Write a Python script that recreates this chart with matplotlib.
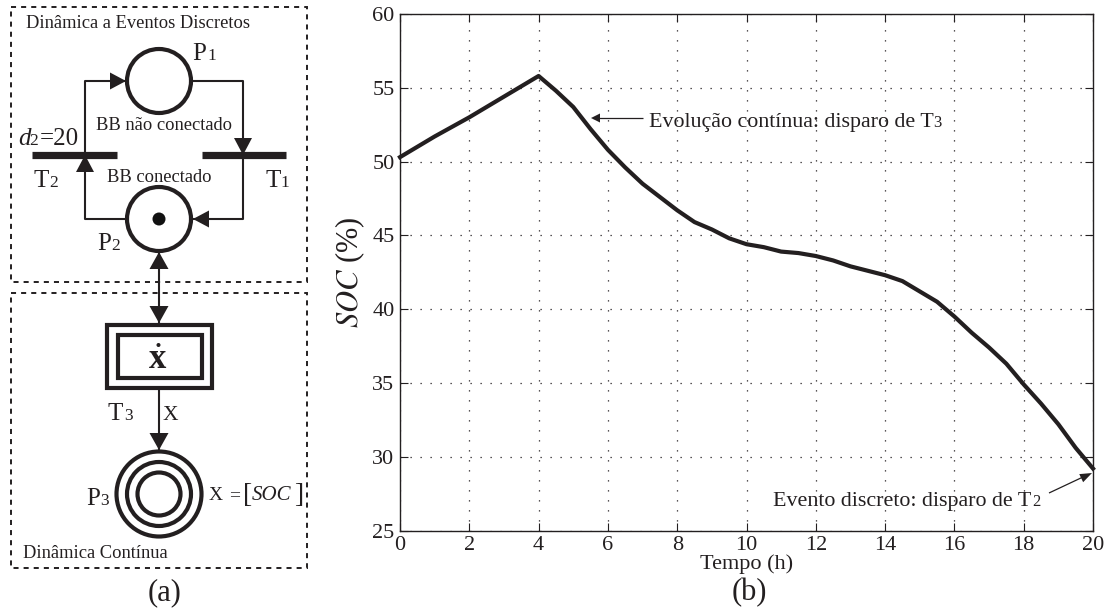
import matplotlib
matplotlib.use("Agg")
import matplotlib.pyplot as plt
from matplotlib.patches import Circle, Rectangle, Polygon

plt.rcParams['font.family'] = ['Liberation Serif', 'DejaVu Serif']

# ---- data of the SOC curve
tempo = [0, 1, 2, 3, 4, 4.5, 5, 5.5, 6, 6.5, 7, 7.5, 8, 8.5, 9, 9.5, 10, 10.5, 11, 11.5,
         12, 12.5, 13, 13.5, 14, 14.5, 15, 15.5, 16, 16.5, 17, 17.5, 18, 18.5, 19, 19.5, 20]
soc = [50.3, 51.7, 53.0, 54.4, 55.8, 54.8, 53.7, 52.2, 50.8, 49.6, 48.5, 47.6, 46.7, 45.9, 45.4, 44.8,
       44.4, 44.2, 43.9, 43.8, 43.6, 43.3, 42.9, 42.6, 42.3, 41.9, 41.2, 40.5, 39.5, 38.4, 37.4, 36.3,
       34.9, 33.6, 32.2, 30.6, 29.2]
xticks = [0, 2, 4, 6, 8, 10, 12, 14, 16, 18, 20]
yticks = [25, 30, 35, 40, 45, 50, 55, 60]

W, H = 1110, 609
INK = '#231f20'
fig = plt.figure(figsize=(W / 100, H / 100), dpi=100, facecolor='white')

# ---- right panel: chart
ax = fig.add_axes([400 / W, 1 - 530.5 / H, 693 / W, 516.5 / H])
ax.plot(tempo, soc, color=INK, lw=3.0, solid_joinstyle='round', clip_on=False, zorder=3)
ax.set_xlim(0, 20)
ax.set_ylim(25, 60)
ax.set_xticks(xticks)
ax.set_yticks(yticks)
ax.grid(True, color=INK, ls=(0, (1, 7)), lw=0.9)
ax.set_axisbelow(True)
ax.tick_params(direction='in', length=6, width=0.8, top=True, right=True, labelsize=16,
               pad=4, color=INK, labelcolor=INK)
for s in ax.spines.values():
    s.set_linewidth(1.0)
    s.set_color(INK)

# ---- full-figure overlay in reference pixel coordinates (schematic and notes)
ov = fig.add_axes([0, 0, 1, 1], facecolor='none')
ov.set_xlim(0, W)
ov.set_ylim(H, 0)
ov.axis('off')


def line(x, y, lw=1.5, **kw):
    ov.plot(x, y, color=INK, lw=lw, solid_capstyle='butt', **kw)


def tri(tip, direction, size=16, half=8.5):
    x, y = tip
    dx, dy = direction
    px, py = -dy, dx
    ov.add_patch(Polygon([(x, y), (x - dx * size + px * half, y - dy * size + py * half),
                          (x - dx * size - px * half, y - dy * size - py * half)],
                         closed=True, fc=INK, ec='none', zorder=5))


def txt(x, y, s, size, ha='left', va='baseline', **kw):
    ov.text(x, y, s, fontsize=size, ha=ha, va=va, color=INK, **kw)


def ring(x, y, r, lw=3):
    ov.add_patch(Circle((x, y), r, fc='none', ec=INK, lw=lw, zorder=4))


# dashed boxes
for (x0, y0, x1, y1) in [(11, 7, 307, 282), (11, 293, 307, 568)]:
    ov.add_patch(Rectangle((x0, y0), x1 - x0, y1 - y0, fc='none', ec=INK, lw=1.4, ls=(0, (2.6, 2.6))))

# arcs of the discrete net
line([85, 85, 127], [155, 81, 81])
line([192, 243, 243], [81, 81, 155])
line([243, 243, 193], [155, 219, 219])
line([85, 85, 127], [155, 219, 219])
tri((126, 81), (1, 0))
tri((243, 155), (0, 1), size=17, half=9)
tri((193, 219), (-1, 0))
tri((85, 155), (0, -1), size=17, half=9)
# transitions
line([32, 117], [155, 155], lw=5.2)
line([202, 286], [155, 155], lw=5.2)
# places
ring(159, 81, 32)
ring(159, 219, 32)
ov.add_patch(Circle((159, 219), 6.5, fc='#111', ec='none', zorder=5))

# link discrete / continuous
line([159, 159], [252, 323])
tri((159, 252), (0, -1), size=17, half=9.5)
tri((159, 323), (0, 1), size=17, half=9.5)

# double box T3
ov.add_patch(Rectangle((106.5, 325), 105, 63, fc='none', ec=INK, lw=3.0))
ov.add_patch(Rectangle((117.5, 335), 84, 43, fc='none', ec=INK, lw=3.0))
txt(158, 368, 'x', 25, ha='center', fontweight='bold')
ov.add_patch(Circle((158.5, 345), 2, fc=INK, ec='none'))
line([159, 159], [388, 450])
tri((159, 450), (0, 1), size=17, half=9.5)
# place P3
ring(159, 494, 42.5, lw=3)
ring(159, 494, 32, lw=3)
ring(159, 494, 21.5, lw=3)

# schematic text
txt(26, 28, 'Dinâmica a Eventos Discretos', 13.3)
txt(23, 558, 'Dinâmica Contínua', 13.3)
txt(96, 130, 'BB não conectado', 13.3)
txt(107, 182, 'BB conectado', 13.3)
txt(192.5, 60, 'P', 18)
txt(207, 60, '1', 12.5)
txt(18, 145, 'd', 18, style='italic')
txt(29.5, 145, '2', 12.5)
txt(39.5, 145, '=20', 18)
txt(33, 187, 'T', 18)
txt(49, 187, '2', 12.5)
txt(265.5, 187, 'T', 18)
txt(280, 187, '1', 12.5)
txt(97, 250, 'P', 18)
txt(111, 250, '2', 12.5)
txt(107, 420, 'T', 18)
txt(124, 420, '3', 12.5)
txt(162.5, 420, 'X', 15.5)
txt(86, 505, 'P', 18)
txt(100.5, 505, '3', 12.5)
txt(209, 500, 'X', 14)
txt(229, 500, '=', 14)
txt(243, 502, '[', 20)
txt(252, 500, 'SOC', 15, style='italic')
txt(294, 502, ']', 20)
txt(165, 600, '(a)', 22, ha='center')
txt(749, 600, '(b)', 22, ha='center')

# chart notes
ov.text(350, 272, '$\\mathit{SOC}$ (%)', fontsize=22, rotation=90, ha='center', va='center',
        color=INK, math_fontfamily='stix')
txt(746.5, 569, 'Tempo (h)', 16, ha='center')
txt(649, 127, 'Evolução contínua: disparo de T', 15.8)
txt(933.5, 127, '3', 12)
line([593, 643], [118, 118], lw=0.9)
tri((591, 118), (-1, 0), size=9, half=4.5)
txt(773, 506, 'Evento discreto: disparo de T', 15.8)
txt(1032, 506, '2', 12)
line([1049, 1083], [493, 477], lw=0.9)
tri((1092, 473), (0.9, -0.43), size=12, half=4.5)

fig.savefig('out.png', dpi=100, facecolor='white')
